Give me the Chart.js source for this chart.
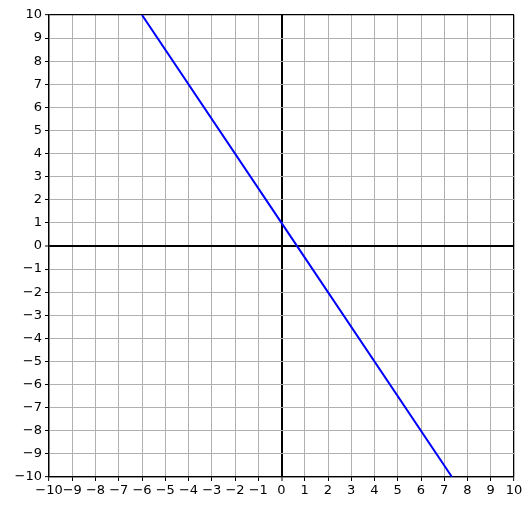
<!DOCTYPE html>
<html>
<head>
<meta charset="utf-8">
<script src="https://cdn.jsdelivr.net/npm/chart.js@4"></script>
<style>
  html, body { margin: 0; padding: 0; background: #fff; }
  #wrap { width: 532px; height: 511px; }
</style>
</head>
<body>
<div id="wrap"><canvas id="line-graph" width="532" height="511"></canvas></div>
<script>
// points: y = -1.5x + 1, clipped at the plot edges
const lineX = [-6, 0, 7.333];
const lineY = [10, 1, -10];
const axisMin = -10;
const axisMax = 10;

const points = lineX.map((x, i) => ({ x: x, y: lineY[i] }));

function minusSign(value) {
    return String(value).replace('-', '\u2212');
}

function gridColor(ctx) {
    const v = ctx.tick ? ctx.tick.value : null;
    if (v === 0 || v === axisMin || v === axisMax) return '#000000';
    return '#b0b0b0';
}

function gridWidth(ctx) {
    const v = ctx.tick ? ctx.tick.value : null;
    if (v === 0) return 2;
    if (v === axisMin || v === axisMax) return 1.3;
    return 1;
}

const ctx = document.getElementById('line-graph').getContext('2d');

new Chart(ctx, {
    type: 'scatter',
    data: {
        datasets: [{
            data: points,
            showLine: true,
            borderColor: '#0000ff',
            borderWidth: 2,
            pointRadius: 0,
            fill: false
        }]
    },
    options: {
        responsive: false,
        animation: false,
        events: [],
        layout: {
            padding: { top: 15, right: 18, left: 0, bottom: 0 }
        },
        scales: {
            x: {
                type: 'linear',
                min: axisMin,
                max: axisMax,
                afterFit: scale => { scale.height = 34; },
                border: { color: '#000000', width: 1.3 },
                grid: {
                    color: gridColor,
                    lineWidth: gridWidth,
                    tickColor: '#000000',
                    tickLength: 4,
                    tickWidth: 1
                },
                ticks: {
                    stepSize: 1,
                    autoSkip: false,
                    maxRotation: 0,
                    padding: 2,
                    color: '#000000',
                    font: { family: 'DejaVu Sans', size: 13 },
                    callback: value => minusSign(value)
                }
            },
            y: {
                type: 'linear',
                min: axisMin,
                max: axisMax,
                afterFit: scale => { scale.width = 49; },
                border: { color: '#000000', width: 1.3 },
                grid: {
                    color: gridColor,
                    lineWidth: gridWidth,
                    tickColor: '#000000',
                    tickLength: 4,
                    tickWidth: 1
                },
                ticks: {
                    stepSize: 1,
                    autoSkip: false,
                    padding: 3,
                    color: '#000000',
                    font: { family: 'DejaVu Sans', size: 13 },
                    callback: value => minusSign(value)
                }
            }
        },
        plugins: {
            legend: { display: false },
            tooltip: { enabled: false }
        }
    }
});
</script>
</body>
</html>
